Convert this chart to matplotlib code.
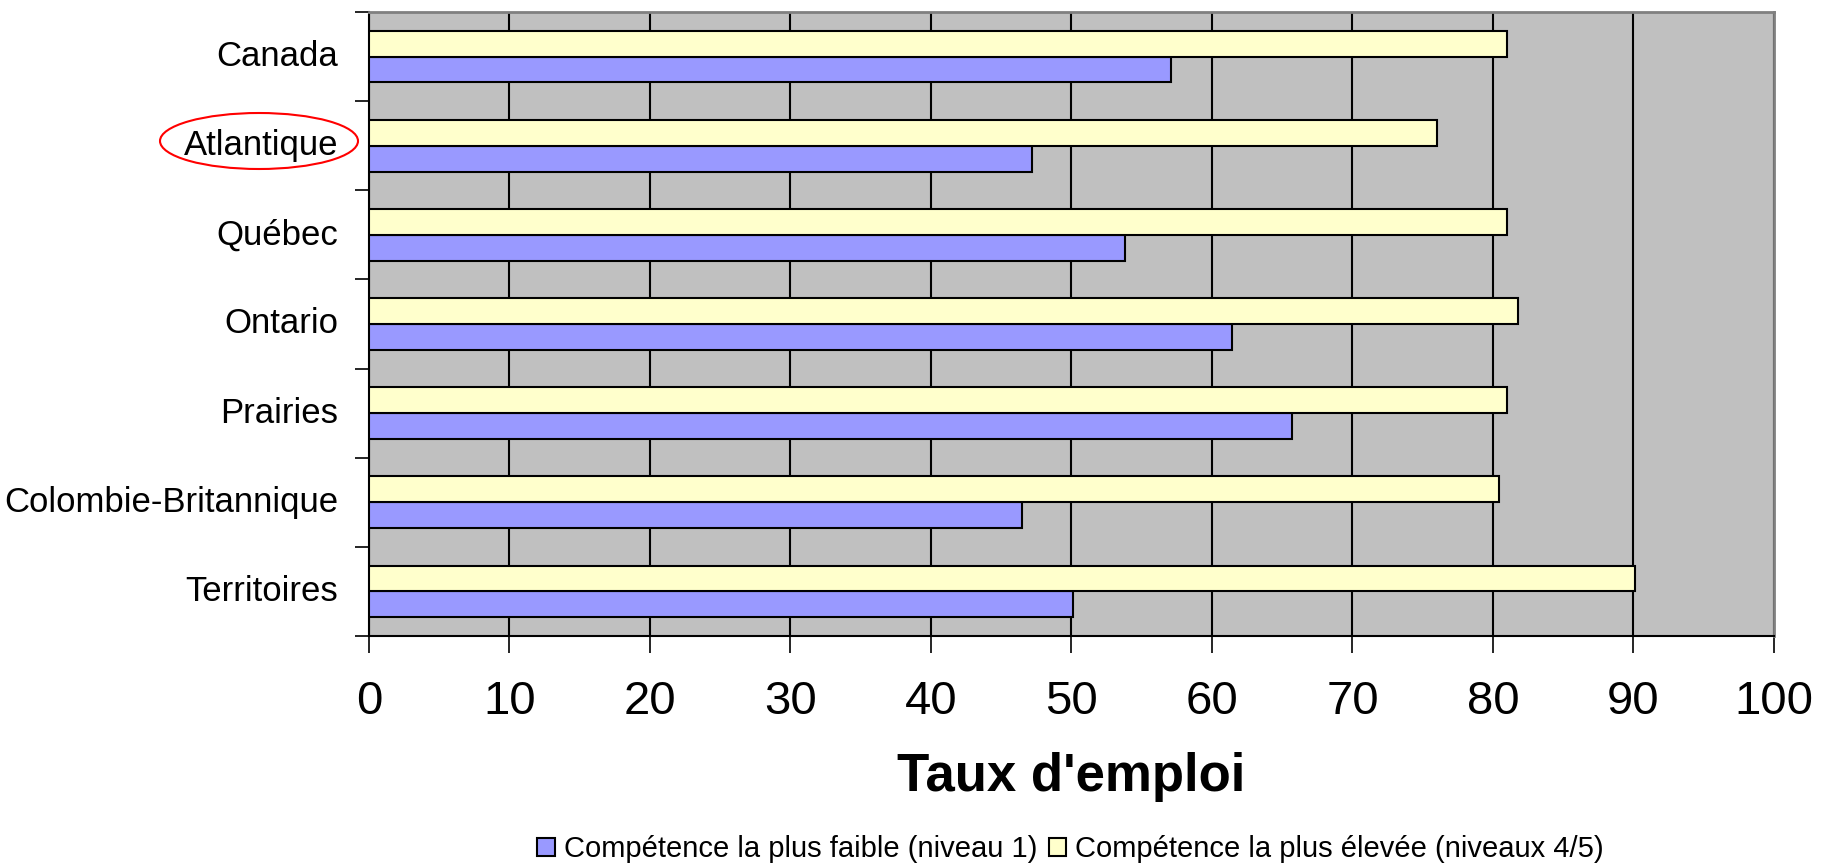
import numpy as np
import matplotlib
matplotlib.use("Agg")
import matplotlib.pyplot as plt
from matplotlib.patches import Ellipse

plt.rcParams['font.family'] = ['Liberation Sans', 'DejaVu Sans']

regions = ['Canada', 'Atlantique', 'Québec', 'Ontario', 'Prairies',
           'Colombie-Britannique', 'Territoires']
niveau1 = [57.1, 47.2, 53.8, 61.4, 65.7, 46.5, 50.1]
niveau45 = [81.0, 76.0, 81.0, 81.8, 81.0, 80.4, 90.1]
label1 = 'Compétence la plus faible (niveau 1)'
label45 = 'Compétence la plus élevée (niveaux 4/5)'

fig = plt.figure(figsize=(18.3, 8.63), dpi=100)
ax = fig.add_axes([0.2016, 0.263, 0.7678, 0.723])
ax.set_facecolor('#C0C0C0')

y = np.arange(len(regions))
h = 0.29
b1 = ax.barh(y + h / 2, niveau1, height=h, color='#9999FF', edgecolor='black',
             linewidth=1.5, label=label1, zorder=3)
b2 = ax.barh(y - h / 2, niveau45, height=h, color='#FFFFCC', edgecolor='black',
             linewidth=1.5, label=label45, zorder=3)

ax.set_xlim(0, 100)
ax.set_ylim(len(regions) - 0.5, -0.5)
ax.set_xticks(np.arange(0, 101, 10))
ax.tick_params(axis='x', labelsize=34, length=12, width=1.2, pad=20)
ax.xaxis.grid(True, color='black', linewidth=1.5, zorder=1)
ax.set_axisbelow(True)

# ticks between groups, labels at centres
ax.set_yticks(np.arange(-0.5, len(regions)), labels=[''] * (len(regions) + 1))
ax.set_yticks(y - 0.04, labels=regions, minor=True)
ax.tick_params(axis='y', which='major', length=10, width=1.2)
ax.tick_params(axis='y', which='minor', length=0, labelsize=25, pad=22)

for s in ['top', 'right']:
    ax.spines[s].set_color('#808080')
    ax.spines[s].set_linewidth(2)
for s in ['left', 'bottom']:
    ax.spines[s].set_color('black')
    ax.spines[s].set_linewidth(1.5)

ax.set_xlabel("Taux d'emploi", fontsize=38, fontweight='bold', labelpad=20)

fig.legend(handles=[b1, b2], loc='center', bbox_to_anchor=(0.585, 0.016),
           ncol=2, frameon=False, fontsize=21, handlelength=0.6,
           handleheight=0.6, handletextpad=0.3, columnspacing=0.4)

ell = Ellipse((259 / 1830, 1 - 141 / 863), 198 / 1830, 56 / 863,
              transform=fig.transFigure, fill=False, edgecolor='red',
              linewidth=1.5)
fig.patches.append(ell)

fig.savefig('out.png', dpi=100)
